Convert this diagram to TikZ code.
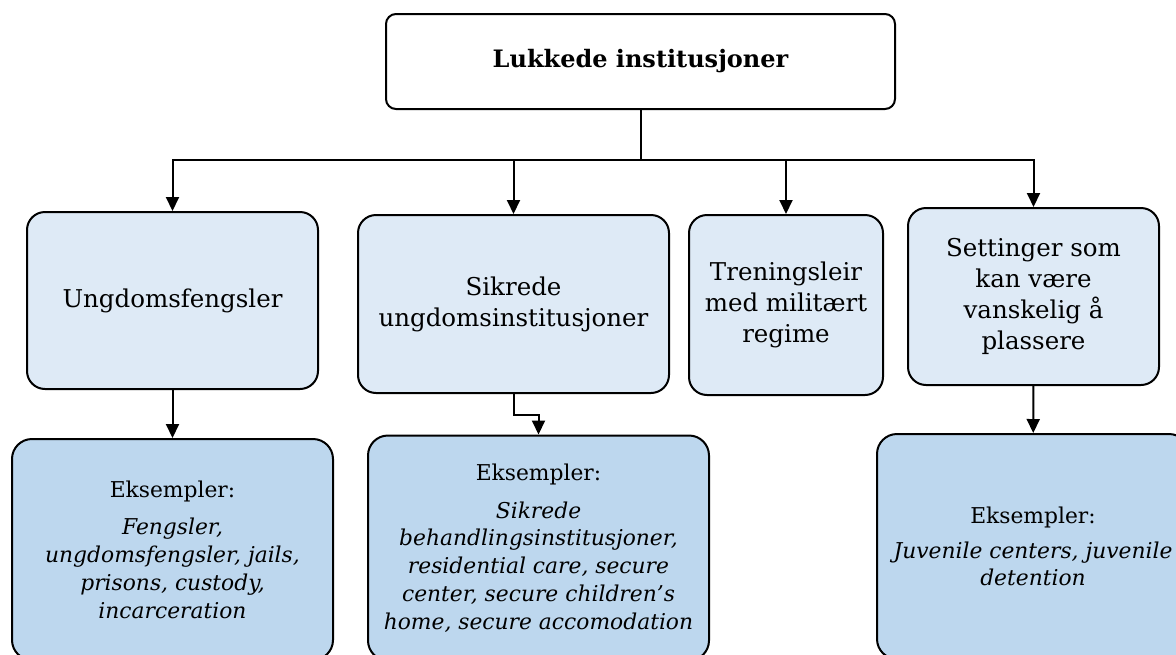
\documentclass[tikz,border=0pt]{standalone}
\usepackage{fontspec}
\setmainfont{DejaVu Serif}
\usetikzlibrary{arrows.meta}
\definecolor{lightbox}{HTML}{DEEAF6}
\definecolor{darkbox}{HTML}{BDD7EE}
\begin{document}
\begin{tikzpicture}[x=1pt, y=-1pt, line width=2pt,
    box/.style={draw, align=center, inner sep=0pt},
    kind/.style={box, rounded corners=18pt, fill=lightbox, font=\fontsize{24.5}{31}\selectfont},
    example/.style={box, rounded corners=20pt, fill=darkbox, font=\fontsize{21.8}{27.8}\selectfont},
    arr/.style={-{Triangle[width=13pt,length=14pt]}}]
  \useasboundingbox (0,0) rectangle (1176,654);
  \clip (0,0) rectangle (1176,654);

  \node[box, rounded corners=10pt, fill=white, minimum width=509pt, minimum height=95pt,
        font=\fontsize{24}{28}\selectfont\bfseries] (closed) at (640.5,61.5) {Lukkede institusjoner};

  \node[kind, minimum width=291pt, minimum height=177pt] (youthprison) at (172.5,300.5) {Ungdomsfengsler};
  \node[kind, minimum width=311pt, minimum height=178pt] (secure) at (513.5,304) {Sikrede\\ungdomsinstitusjoner};
  \node[kind, minimum width=194pt, minimum height=180pt] (camp) at (786,305) {Treningsleir\\med militært\\regime};
  \node[kind, minimum width=251pt, minimum height=177pt] (other) at (1033.5,296.5) {Settinger som\\kan være\\vanskelig å\\plassere};

  \node[example, minimum width=321pt, minimum height=221pt] (ex1) at (172.5,549.5)
    {Eksempler:\\[10pt]\textit{Fengsler,}\\\textit{ungdomsfengsler, jails,}\\\textit{prisons, custody,}\\\textit{incarceration}};
  \node[example, minimum width=341pt, minimum height=225pt] (ex2) at (538.5,548)
    {Eksempler:\\[10pt]\textit{Sikrede}\\\textit{behandlingsinstitusjoner,}\\\textit{residential care, secure}\\\textit{center, secure children's}\\\textit{home, secure accomodation}};
  \node[example, minimum width=312pt, minimum height=225pt] (ex3) at (1033,546.5)
    {Eksempler:\\[7pt]\textit{Juvenile centers, juvenile}\\\textit{detention}};

  \coordinate (split) at (640.5,160);
  \draw (closed) -- (split);
  \draw[arr] (split) -| (youthprison.north);
  \draw[arr] (split) -| (secure.north);
  \draw[arr] (split) -| (camp.north);
  \draw[arr] (split) -| (other.north);

  \draw[arr] (youthprison) -- (ex1);
  \draw[arr] (secure.south) -- ++(0,21) -| (ex2.north);
  \draw[arr] (other) -- (ex3);
\end{tikzpicture}
\end{document}
